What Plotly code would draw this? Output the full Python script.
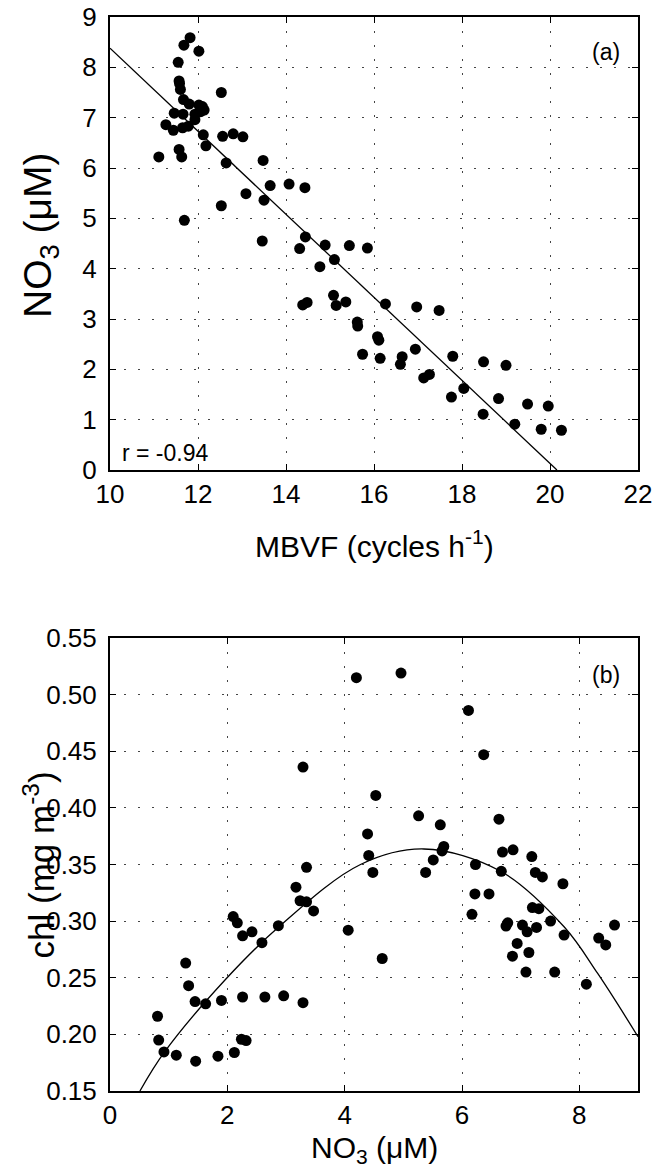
import plotly.graph_objects as go
from plotly.subplots import make_subplots

# ---------------- Panel (a): MBVF vs NO3 ----------------
mbvf = [11.82, 11.68, 12.02, 11.55, 11.57, 11.58, 11.60, 12.53, 11.67, 11.80,
        12.02, 12.10, 12.14, 12.06, 11.46, 11.66, 11.93, 11.93, 11.27, 11.44,
        11.65, 11.78, 12.12, 12.56, 12.80, 13.02, 12.18, 11.57, 11.11, 11.63,
        12.64, 13.48, 13.64, 14.07, 14.43, 13.09, 13.50, 12.53, 11.69, 13.46,
        14.44, 14.31, 14.89, 15.44, 15.85, 15.10, 14.77, 14.38, 14.48, 15.08,
        15.14, 15.36, 16.26, 16.97, 17.48, 15.62, 15.63, 16.08, 16.11, 15.74,
        16.14, 16.64, 16.60, 16.94, 17.13, 17.26, 17.79, 18.49, 19.00, 17.76,
        18.04, 18.83, 19.49, 19.96, 18.48, 19.20, 19.80, 20.26]
no3_a = [8.59, 8.44, 8.32, 8.10, 7.73, 7.68, 7.56, 7.50, 7.36, 7.27,
         7.25, 7.22, 7.15, 7.12, 7.09, 7.07, 7.07, 6.96, 6.86, 6.75,
         6.80, 6.83, 6.66, 6.63, 6.68, 6.62, 6.44, 6.37, 6.22, 6.22,
         6.10, 6.15, 5.65, 5.68, 5.61, 5.49, 5.36, 5.25, 4.96, 4.55,
         4.63, 4.40, 4.47, 4.46, 4.41, 4.18, 4.04, 3.28, 3.33, 3.47,
         3.27, 3.34, 3.30, 3.24, 3.17, 2.94, 2.86, 2.65, 2.58, 2.30,
         2.22, 2.25, 2.10, 2.40, 1.83, 1.90, 2.26, 2.15, 2.08, 1.45,
         1.62, 1.42, 1.31, 1.27, 1.11, 0.91, 0.81, 0.79]

# linear regression
fit_a_slope = -0.825
fit_a_intercept = 16.63
fit_a_xstart = 10.0

# ---------------- Panel (b): NO3 vs chl ----------------
no3_b = [4.20, 3.29, 4.53, 4.39, 4.41, 4.48, 3.35, 4.96, 6.11, 6.37,
         5.26, 5.63, 6.63, 5.69, 5.66, 6.69, 6.87, 7.19, 5.51, 5.38,
         6.23, 6.67, 7.25, 7.37, 3.17, 3.24, 3.35, 3.47, 2.87, 2.59,
         2.10, 2.17, 2.26, 2.42, 4.06, 4.64, 1.29, 1.34, 1.45, 1.63,
         1.90, 2.26, 2.64, 2.96, 3.29, 0.81, 0.83, 0.92, 1.13, 1.46,
         1.84, 2.12, 2.24, 2.32, 7.72, 6.22, 6.46, 6.17, 7.20, 7.31,
         6.78, 6.75, 7.03, 7.11, 7.27, 7.51, 7.74, 6.94, 7.14, 6.86,
         7.09, 7.58, 8.33, 8.45, 8.60, 8.12]
chl_b = [0.515, 0.436, 0.411, 0.377, 0.358, 0.343, 0.3475, 0.519, 0.486, 0.447,
         0.393, 0.385, 0.390, 0.366, 0.362, 0.361, 0.363, 0.357, 0.354, 0.343,
         0.350, 0.344, 0.343, 0.339, 0.330, 0.318, 0.317, 0.309, 0.296, 0.281,
         0.304, 0.2985, 0.287, 0.2906, 0.292, 0.267, 0.263, 0.243, 0.229, 0.227,
         0.230, 0.233, 0.233, 0.234, 0.228, 0.216, 0.195, 0.1845, 0.1816, 0.1763,
         0.1807, 0.184, 0.1957, 0.1945, 0.333, 0.324, 0.324, 0.306, 0.312, 0.311,
         0.2985, 0.2956, 0.2965, 0.2906, 0.2944, 0.300, 0.2877, 0.2803, 0.2723, 0.269,
         0.255, 0.255, 0.285, 0.279, 0.2965, 0.2443]

# fitted curve
fit_b_x = [0.51, 0.93, 1.96, 2.87, 4.27, 5.35, 6.66, 7.74, 8.31, 9.0]
fit_b_y = [0.150, 0.1845, 0.248, 0.2945, 0.350, 0.3637, 0.344, 0.295, 0.254, 0.198]

FONT = "Liberation Sans, Arial, sans-serif"

fig = make_subplots(rows=2, cols=1, vertical_spacing=0.0)

fig.add_trace(go.Scatter(x=mbvf, y=no3_a, mode="markers",
                         marker=dict(color="black", size=11),
                         showlegend=False), row=1, col=1)
fit_a_xend = -fit_a_intercept / fit_a_slope
fit_a_x = [fit_a_xstart, fit_a_xend]
fit_a_y = [fit_a_intercept + fit_a_slope * v for v in fit_a_x]
fig.add_trace(go.Scatter(x=fit_a_x, y=fit_a_y, mode="lines",
                         line=dict(color="black", width=1.3),
                         showlegend=False), row=1, col=1)

fig.add_trace(go.Scatter(x=no3_b, y=chl_b, mode="markers",
                         marker=dict(color="black", size=11),
                         showlegend=False), row=2, col=1)
fig.add_trace(go.Scatter(x=fit_b_x, y=fit_b_y, mode="lines",
                         line=dict(color="black", width=1.3, shape="spline", smoothing=1.0),
                         showlegend=False), row=2, col=1)

axis_common = dict(showline=True, linewidth=2, linecolor="black", mirror="ticks",
                   ticks="inside", ticklen=6, tickwidth=1, tickcolor="black",
                   showgrid=True, gridcolor="#444", gridwidth=1, griddash="2px,12px",
                   zeroline=False, automargin=False, ticklabeloverflow="allow",
                   tickfont=dict(family=FONT, size=26, color="black"))

fig.update_xaxes(range=[10, 22], dtick=2, tick0=10, ticklabelstandoff=0, **axis_common, row=1, col=1)
fig.update_yaxes(range=[0, 9], dtick=1, tick0=0, ticklabelstandoff=6, **axis_common, row=1, col=1)
fig.update_xaxes(range=[0, 9], dtick=2, tick0=0, ticklabelstandoff=0, **axis_common, row=2, col=1)
fig.update_yaxes(range=[0.15, 0.55], dtick=0.05, tick0=0.15, tickformat=".2f",
                 ticklabelstandoff=6, **axis_common, row=2, col=1)

fig.update_layout(
    xaxis=dict(domain=[0, 1]), yaxis=dict(domain=[0.5782, 1.0]),
    xaxis2=dict(domain=[0, 1]), yaxis2=dict(domain=[0.0, 0.4218]),
)

def ann(text, x, y, xref, yref, size, angle=0, xanchor="center"):
    return dict(text=text, x=x, y=y, xref=xref, yref=yref, showarrow=False,
                xanchor=xanchor, yanchor="middle", textangle=angle,
                font=dict(family=FONT, size=size, color="black"))

annots = [
    ann("(a)", 21.28, 8.3, "x", "y", 23),
    ann("r = -0.94", 10.23, 0.34, "x", "y", 23, xanchor="left"),
    ann("(b)", 8.46, 0.517, "x2", "y2", 23),
    ann("MBVF (cycles h<sup>-1</sup>)", 0.5, 0.5093, "paper", "paper", 30),
    ann("NO<sub>3</sub> (μM)", 0.5, -0.0549, "paper", "paper", 30),
    ann("NO<sub>3</sub> (μM)", -0.1326, 0.797, "paper", "paper", 39, angle=-90),
    ann("chl (mg m<sup>-3</sup>)", -0.1326, 0.2109, "paper", "paper", 35, angle=-90),
]

# page body has a default 8px margin: shift the figure accordingly
fig.update_layout(
    width=658, height=1159,
    margin=dict(l=102, r=28, t=9, b=76),
    paper_bgcolor="white", plot_bgcolor="white",
    annotations=annots,
    font=dict(family=FONT, color="black"),
)

fig.write_html("out.html")
